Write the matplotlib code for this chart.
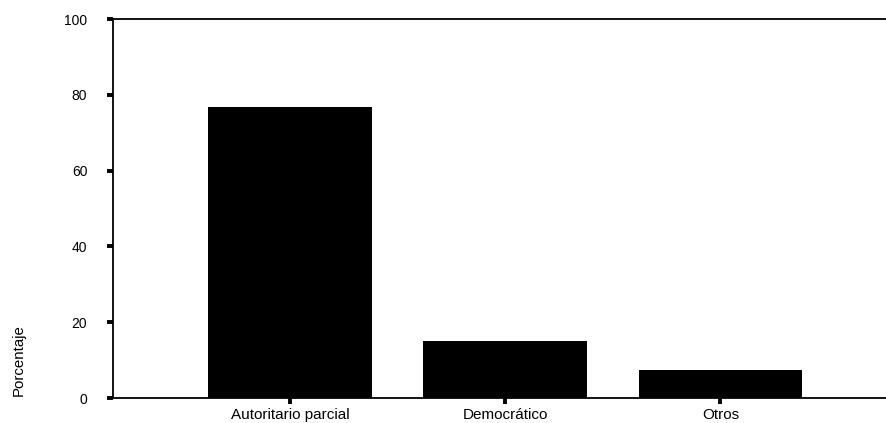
import matplotlib
matplotlib.use("Agg")
import matplotlib.pyplot as plt

# data
categorias = ["Autoritario parcial", "Democrático", "Otros"]
porcentajes = [76.8, 15.0, 7.4]
y_ticks = [0, 20, 40, 60, 80, 100]

plt.rcParams["font.family"] = ["Liberation Sans", "DejaVu Sans"]

fig = plt.figure(figsize=(8.86, 4.23), dpi=100)
ax = fig.add_axes([0.1275, 0.059, 0.8725, 0.896])

x = range(len(categorias))
ax.bar(x, porcentajes, width=0.76, color="black")

ax.set_xlim(-0.823, 2.77)
ax.set_ylim(0, 100)
ax.set_xticks(list(x))
ax.set_xticklabels(categorias, fontsize=11)
ax.set_yticks(y_ticks)
ax.set_yticklabels([str(v) for v in y_ticks], fontsize=10)

ax.tick_params(axis="both", direction="out", length=4.5, width=2.8, color="black")
ax.tick_params(axis="x", pad=2.5)
ax.tick_params(axis="y", pad=14)

for side in ["left", "top", "bottom"]:
    ax.spines[side].set_linewidth(1.3)
    ax.spines[side].set_color("black")
ax.spines["right"].set_visible(False)

ax.set_ylabel("Porcentaje", fontsize=10.8)
ax.yaxis.set_label_coords(-0.113, 0.10)

fig.savefig("out.png", dpi=100)
